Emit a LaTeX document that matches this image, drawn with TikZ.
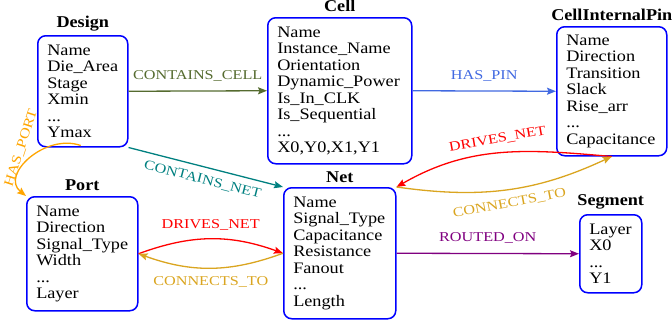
\documentclass[tikz,border=0pt]{standalone}
\usepackage{fontspec}
\usepackage{tikz}
\usetikzlibrary{arrows.meta,positioning}

\newfontfamily\bodyfont[FakeStretch=1.14]{Liberation Serif}
\newfontfamily\titlefont[FakeStretch=1.1]{Liberation Serif}
\newfontfamily\labelfont[FakeStretch=1.2]{Liberation Serif}
\hyphenpenalty=10000

\definecolor{olivearrow}{RGB}{85,107,47}
\definecolor{pinblue}{RGB}{65,105,225}
\definecolor{netteal}{RGB}{0,128,128}
\definecolor{portorange}{RGB}{255,165,0}
\definecolor{connectgold}{RGB}{218,165,32}
\definecolor{routedpurple}{RGB}{128,0,128}

\tikzset{
  entity/.style={draw=blue, line width=1.5pt, rounded corners=8pt, align=left,
    anchor=north west, inner xsep=9.5pt, inner ysep=0pt,
    font=\bodyfont\fontsize{16}{16.5}\selectfont},
  title/.style={anchor=base, font=\titlefont\bfseries\fontsize{16.5}{18}\selectfont},
  rel/.style={line width=1.3pt, -{Stealth[length=9pt,width=7pt,inset=1.5pt]}},
  rellabel/.style={font=\labelfont\fontsize{13.5}{15}\selectfont, inner sep=1pt}
}

\begin{document}
\begin{tikzpicture}[x=1pt,y=1pt]
  \useasboundingbox (0,0) rectangle (672,325);

  % entities
  \node[entity, text width=71pt, minimum height=111pt] (design) at (37,290)
    {Name\\Die\_Area\\Stage\\Xmin\\...\\Ymax};
  \node[entity, text width=125pt, minimum height=146pt] (cell) at (267,308)
    {Name\\Instance\_Name\\Orientation\\Dynamic\_Power\\Is\_In\_CLK\\Is\_Sequential\\...\\X0,Y0,X1,Y1};
  \node[entity, text width=91pt, minimum height=129pt] (cip) at (556,299)
    {Name\\Direction\\Transition\\Slack\\Rise\_arr\\...\\Capacitance};
  \node[entity, text width=92pt, minimum height=114pt] (port) at (26,129)
    {Name\\Direction\\Signal\_Type\\Width\\...\\Layer};
  \node[entity, text width=93pt, minimum height=131pt] (net) at (283,138)
    {Name\\Signal\_Type\\Capacitance\\Resistance\\Fanout\\...\\Length};
  \node[entity, text width=43pt, minimum height=78pt] (segment) at (579,111)
    {Layer\\X0\\...\\Y1};

  % titles
  \node[title] (designTitle) at ([yshift=8pt]design.north) {Design};
  \node[title] (cellTitle) at ([yshift=5pt]cell.north) {Cell};
  \node[title] (cipTitle) at ([yshift=6pt]cip.north) {CellInternalPin};
  \node[title] (portTitle) at ([yshift=6pt]port.north) {Port};
  \node[title] (netTitle) at ([yshift=5pt]net.north) {Net};
  \node[title] (segmentTitle) at ([yshift=9pt]segment.north) {Segment};

  % relations
  \draw[rel, olivearrow] (design.east) -- node[rellabel, above=8pt] (containsCell) {CONTAINS\_CELL} (cell.west);
  \draw[rel, pinblue] (cell.east) -- node[rellabel, above=8pt] (hasPin) {HAS\_PIN} (cip.west);
  \draw[rel, netteal] (design.south east) -- node[rellabel, sloped, below=6pt] (containsNet) {CONTAINS\_NET} (net.north west);
  \draw[rel, portorange] ([xshift=-2pt,yshift=2pt]design.south) .. controls (45,192) and (0,150) ..
    node[rellabel, pos=0.5, xshift=-9pt, yshift=10pt, rotate=72] (hasPort) {HAS\_PORT} (port.north west);
  \draw[rel, red] (port.east) to[bend left=20] node[rellabel, above=7pt] (drivesNetPort) {DRIVES\_NET} (net.west);
  \draw[rel, connectgold] (net.west) to[bend left=20] node[rellabel, below=7pt] (connectsPort) {CONNECTS\_TO} (port.east);
  \draw[rel, red] (cip.south) to[out=175, in=30]
    node[rellabel, pos=0.5, rotate=10, anchor=south, inner ysep=8pt] (drivesNetPin) {DRIVES\_NET} (net.north east);
  \draw[rel, connectgold] (net.north east) to[out=-8, in=205]
    node[rellabel, pos=0.5, rotate=11, anchor=north, inner ysep=8pt] (connectsPin) {CONNECTS\_TO} (cip.south);
  \draw[rel, routedpurple] (net.east) -- node[rellabel, above=9pt] (routedOn) {ROUTED\_ON} (segment.west);
\end{tikzpicture}
\end{document}
